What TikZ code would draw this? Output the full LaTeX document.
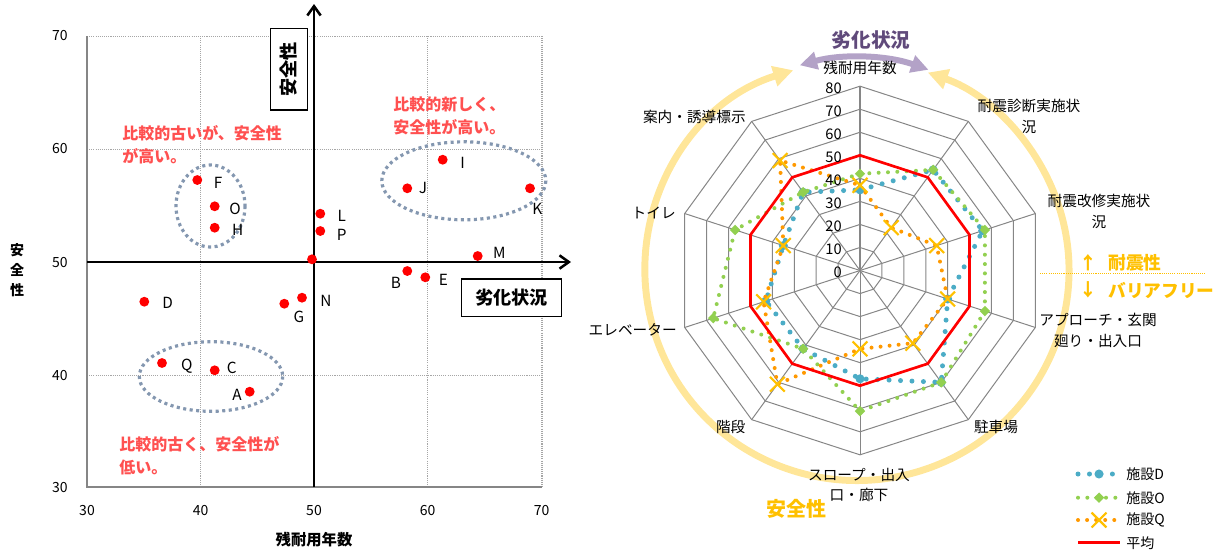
\documentclass[tikz,border=0pt]{standalone}
\usepackage{fontspec}
\setmainfont{Noto Sans CJK JP}
\usetikzlibrary{arrows.meta,shapes.geometric,shapes.misc}
\definecolor{ptred}{HTML}{FF0000}
\definecolor{annred}{HTML}{FF5050}
\definecolor{ellc}{HTML}{8497B0}
\definecolor{gridc}{HTML}{A6A6A6}
\definecolor{axgray}{HTML}{868686}
\definecolor{dblue}{HTML}{4BACC6}
\definecolor{ogreen}{HTML}{92D050}
\definecolor{qorange}{HTML}{FF9900}
\definecolor{qgold}{HTML}{FFC000}
\definecolor{arcyel}{HTML}{FFE699}
\definecolor{arcpur}{HTML}{B3A2C7}
\definecolor{titpur}{HTML}{604A7B}
\definecolor{radgrid}{HTML}{868686}
\newcommand\fsz[2]{\fontsize{#1pt}{#2pt}\selectfont}
\newcommand\radarline[3]{\draw[#1] (-90:#2*2.304) foreach \v [count=\k] in {#3} { -- (36*\k-90:\v*2.304)} -- cycle;}
\newcommand\radarmarks[3]{\foreach \v [count=\k from 0] in {#3} \node[#1] (#2\k) at (36*\k-90:\v*2.304) {};}
\begin{document}
\begin{tikzpicture}[x=0.75pt,y=-0.75pt,
  dotpt/.style={circle,fill=ptred,inner sep=0pt,minimum size=7.4pt},
  ptlbl/.style={font=\fsz{11.5}{14},inner sep=0pt},
  ticklbl/.style={font=\fsz{10.5}{12},inner sep=0pt},
  ann/.style={font=\bfseries\fsz{12}{17.2},text=annred,align=left,anchor=west,inner sep=0pt},
  grp/.style={draw=ellc,line width=2.4pt,dash pattern=on 2.3pt off 2.6pt},
  gridl/.style={draw=gridc,line width=0.75pt,dash pattern=on 0.8pt off 0.8pt},
  axg/.style={draw=axgray,line width=1.5pt},
  mainax/.style={draw=black,line width=1.9pt,-{Straight Barb[length=7pt,width=10pt]}},
  boxlbl/.style={draw=black,line width=1pt,fill=white,font=\bfseries\fsz{13.6}{16},inner sep=0pt},
  radg/.style={draw=radgrid,line width=0.75pt},
  radlbl/.style={font=\fsz{11}{15.5},align=center,inner sep=0pt},
  seriesD/.style={draw=dblue,line width=3.75pt,line cap=round,dash pattern=on 0pt off 8.6pt},
  seriesO/.style={draw=ogreen,line width=3pt,line cap=round,dash pattern=on 0pt off 7pt},
  seriesQ/.style={draw=qorange,line width=3pt,line cap=round,dash pattern=on 0pt off 6.8pt},
  seriesA/.style={draw=ptred,line width=2pt,line join=miter},
  markD/.style={circle,fill=dblue,inner sep=0pt,minimum size=6.8pt},
  markO/.style={diamond,fill=ogreen,inner sep=0pt,minimum size=8pt},
  markQ/.style={cross out,draw=qgold,line width=1.6pt,inner sep=0pt,minimum size=9.5pt},
  goldtxt/.style={text=qgold,font=\bfseries\fsz{13.3}{16},inner sep=0pt},
  leglbl/.style={font=\fsz{10.5}{12},inner sep=0pt,anchor=west}
]
\useasboundingbox (0,0) rectangle (1213,551);

% ---------------- left chart ----------------
\foreach \x in {200.7,427.7} \draw[gridl] (\x,36) -- (\x,487);
\draw[gridl,line width=1.3pt] (541.7,36) -- (541.7,487);
\foreach \y in {36,149,375} \draw[gridl] (87,\y) -- (541.7,\y);
\draw[axg] (87,36) -- (87,487) -- (541.7,487);

\foreach \v/\y in {70/36,60/149,50/262,40/375,30/487}
  \node[ticklbl,anchor=east] (yt\v) at (68,\y) {\v};
\foreach \v/\x in {30/87,40/200.7,50/314,60/427.7,70/541.7}
  \node[ticklbl] (xt\v) at (\x,510) {\v};

\draw[mainax] (314,487) -- (314,4);
\draw[mainax] (87,262) -- (571,262);

% groups
\draw[grp] (210.5,206) ellipse [x radius=34.5, y radius=41];
\draw[grp] (463.8,180.8) ellipse [x radius=82, y radius=39];
\draw[grp] (211,376.5) ellipse [x radius=71.7, y radius=34.8];

% points
\foreach \n/\px/\py/\lx/\ly in {F/197.3/180/218/182.7, O/214.7/206.3/235/208.7, H/214.7/227.7/237.7/229.7,
  L/320.3/213.7/341.7/216, P/320.3/231/341.7/235, I/442.7/159.7/462.7/163, J/407.3/188.3/423/188,
  K/530/188.3/537.3/209, M/477.7/256/499.3/253, B/407.3/271/396/283, E/425.3/277.3/443.3/280,
  D/144.3/301.7/167.7/303.3, G/284.3/303.7/299/316.7, N/302/297.7/326/300.7, Q/162/363/186.7/366,
  C/214.7/370.3/231.7/368, A/249.7/391.7/237/395}
{
  \node[dotpt] (p\n) at (\px,\py) {};
  \node[ptlbl] (l\n) at (\lx,\ly) {\n};
}
\node[dotpt] (pX) at (312,259.3) {};

% boxes
\node[boxlbl,rotate=90,minimum width=61.3pt,minimum height=27.5pt] (bsafe) at (289,69.2) {安全性};
\node[boxlbl,minimum width=75.3pt,minimum height=28.3pt] (bdeg) at (511.5,297.9) {劣化状況};

% annotations
\node[ann] (a1) at (122,144.5) {比較的古いが、安全性\\が高い。};
\node[ann] (a2) at (393,115.5) {比較的新しく、\\安全性が高い。};
\node[ann] (a3) at (119,455.3) {比較的古く、安全性が\\低い。};

% axis titles
\node[font=\bfseries\fsz{10.5}{15},align=center,inner sep=0pt] (ytitle) at (17,270) {安\\全\\性};
\node[font=\bfseries\fsz{11.5}{14},inner sep=0pt] (xtitle) at (314,540) {残耐用年数};

% ---------------- radar chart ----------------
\draw[arcyel,line width=5.2pt,{Triangle[length=15pt,width=15pt]}-{Triangle[length=15pt,width=15pt]}]
  (857,270.5) ++(-107.5:212 and 210) arc[start angle=-107.5, end angle=-430.5, x radius=212, y radius=210];
\draw[arcpur,line width=4.5pt,{Triangle[length=13pt,width=13pt]}-{Triangle[length=13pt,width=13pt]}]
  (857,270.5) ++(-105.5:214 and 213) arc[start angle=-105.5, end angle=-70.5, x radius=214, y radius=213];

\begin{scope}[shift={(860,270.5)}]
  \foreach \r in {1,...,8}
    \draw[radg] (-90:\r*23.04) foreach \k in {1,...,9} { -- (36*\k-90:\r*23.04)} -- cycle;
  \foreach \k in {0,...,9} \draw[radg] (0,0) -- (36*\k-90:184.3);
  \draw[radg,line width=1.3pt] (0,0) -- (-90:184.3);

  \radarline{seriesD}{35}{54,56,40,60,47,42,43,35,42}
  \radarmarks{markD}{mD}{35,54,56,40,60,47,42,43,35,42}
  \radarline{seriesO}{42}{54,57,57,60,61,42,67,57,42}
  \radarmarks{markO}{mO}{42,54,57,57,60,61,42,67,57,42}
  \radarline{seriesQ}{37}{23,35,40,39,34,61,44,35,59}
  \radarmarks{markQ}{mQ}{37,23,35,40,39,34,61,44,35,59}
  \radarline{seriesA}{50}{50,50,50,50,50,50,50,50,50}
\end{scope}

\foreach \v in {0,10,...,80}
  \node[ticklbl,anchor=east,font=\fsz{11}{13}] (rt\v) at (842,272.5-\v*2.304) {\v};

\node[radlbl] (r0) at (860,68) {残耐用年数};
\node[radlbl] (r1) at (1029,116.7) {耐震診断実施状\\況};
\node[radlbl] (r2) at (1099,211.7) {耐震改修実施状\\況};
\node[radlbl] (r3) at (1098,330.5) {アプローチ・玄関\\廻り・出入口};
\node[radlbl] (r4) at (996,426.7) {駐車場};
\node[radlbl] (r5) at (859,485) {スロープ・出入\\口・廊下};
\node[radlbl] (r6) at (730.7,426.7) {階段};
\node[radlbl,anchor=east] (r7) at (677,330) {エレベーター};
\node[radlbl,anchor=east] (r8) at (676,213.3) {トイレ};
\node[radlbl,anchor=east] (r9) at (746,117) {案内・誘導標示};

\node[text=titpur,font=\bfseries\fsz{14.7}{17},inner sep=0pt] (rtitle) at (871,40) {劣化状況};
\node[goldtxt,font=\bfseries\fsz{15}{17}] (rsafe) at (796.7,509.3) {安全性};

\node[goldtxt] (upar) at (1088,263) {↑};
\node[goldtxt,anchor=west] (upt) at (1108,263) {耐震性};
\draw[draw=qgold,line width=0.75pt,dash pattern=on 0.8pt off 0.8pt] (1040,273.3) -- (1205,273.3);
\node[goldtxt] (dnar) at (1088,290) {↓};
\node[goldtxt,anchor=west] (dnt) at (1108,290) {バリアフリー};

% legend
\coordinate (g1a) at (1078,474); \coordinate (g1b) at (1120,474);
\draw[seriesD] (g1a) -- (g1b);
\node[markD] (g1m) at (1099,474) {};
\node[leglbl] (g1) at (1126,474) {施設D};
\coordinate (g2a) at (1078,497.7); \coordinate (g2b) at (1120,497.7);
\draw[seriesO] (g2a) -- (g2b);
\node[markO] (g2m) at (1099,497.7) {};
\node[leglbl] (g2) at (1126,497.7) {施設O};
\coordinate (g3a) at (1078,520); \coordinate (g3b) at (1120,520);
\draw[seriesQ] (g3a) -- (g3b);
\node[markQ] (g3m) at (1099,520) {};
\node[leglbl] (g3) at (1126,520) {施設Q};
\coordinate (g4a) at (1078,542.7); \coordinate (g4b) at (1120,542.7);
\draw[seriesA] (g4a) -- (g4b);
\node[leglbl] (g4) at (1126,542.7) {平均};
\end{tikzpicture}
\end{document}
